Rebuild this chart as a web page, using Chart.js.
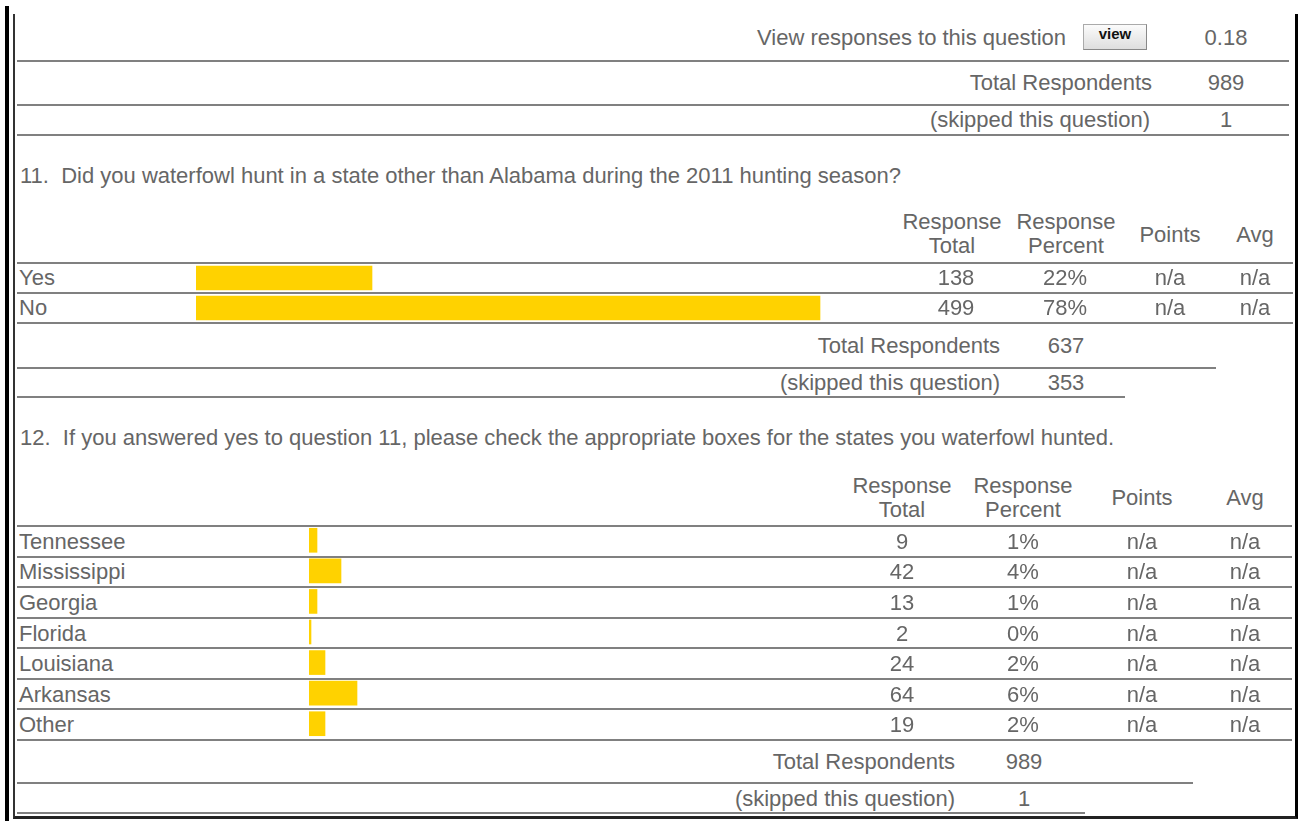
<!DOCTYPE html>
<html>
<head>
<meta charset="utf-8">
<script src="https://cdn.jsdelivr.net/npm/chart.js@4.4.1/dist/chart.umd.min.js"></script>
<style>
    html, body { margin: 0; padding: 0; background: #fff; }
    body { width: 1301px; height: 821px; position: relative; overflow: hidden;
           font-family: "Liberation Sans", Arial, sans-serif; font-size: 22px; color: #666; }
    .t { position: absolute; line-height: 24px; white-space: nowrap; }
    .c { text-align: center; width: 240px; }
    .r { text-align: right; width: 700px; }
    .hr { position: absolute; height: 2px; background: #808080; }
    canvas { position: absolute; }
    #outer { position: absolute; left: 5px; top: 6px; width: 4px; height: 815px; background: #000; }
    #frame { position: absolute; left: 13px; top: 14px; width: 1280px; height: 802px;
             border-left: 2px solid #333; border-right: 3px solid #000; border-bottom: 3px solid #222; }
    .btn { position: absolute; left: 1083px; top: 24px; width: 64px; height: 26px; box-sizing: border-box;
           border: 1px solid #aaa; border-right-color: #888; border-bottom-color: #888;
           background: linear-gradient(#fbfbfb, #dedede);
           font: bold 15px "Liberation Sans", Arial, sans-serif; color: #111; text-align: center; line-height: 18px; }
</style>
</head>
<body>
<div id="outer"></div>
<div id="frame"></div>
<div class="btn">view</div>
<canvas id="q11Chart" width="800" height="60" style="left:196px; top:263px;"></canvas>
<canvas id="q12Chart" width="800" height="214" style="left:309px; top:525px;"></canvas>
<div id="texts"></div>

<script>
// question 11
const q11Labels = ['Yes', 'No'];
const q11Totals = [138, 499];
const q11Percents = [22, 78];

// question 12
const q12Labels = ['Tennessee', 'Mississippi', 'Georgia', 'Florida', 'Louisiana', 'Arkansas', 'Other'];
const q12Totals = [9, 42, 13, 2, 24, 64, 19];
const q12Percents = [1, 4, 1, 0, 2, 6, 2];

const barColor = '#FFD200';

const box = document.getElementById('texts');

// place one text, x is center (c), right edge (r) or left edge
function txt(str, x, y, align) {
    const d = document.createElement('div');
    d.className = 't' + (align ? ' ' + align : '');
    let left = x;
    if (align === 'c') left = x - 120;
    if (align === 'r') left = x - 700;
    d.style.left = left + 'px';
    d.style.top = (y - 12) + 'px';
    d.innerHTML = str;
    box.appendChild(d);
}

function line(y, x1, x2) {
    const d = document.createElement('div');
    d.className = 'hr';
    d.style.left = x1 + 'px';
    d.style.top = y + 'px';
    d.style.width = (x2 - x1) + 'px';
    box.appendChild(d);
}

function barChart(id, labels, percents) {
    new Chart(document.getElementById(id), {
        type: 'bar',
        data: {
            labels: labels,
            datasets: [{
                data: percents,
                backgroundColor: barColor,
                barThickness: 24,
                minBarLength: 2,
                borderWidth: 0
            }]
        },
        options: {
            indexAxis: 'y',
            responsive: false,
            animation: false,
            layout: { padding: 0 },
            plugins: { legend: { display: false }, tooltip: { enabled: false } },
            scales: {
                x: { display: false, min: 0, max: 100 },
                y: { display: false }
            }
        }
    });
}

// top of the page, end of question 10
txt('View responses to this question', 1066, 38, 'r');
txt('0.18', 1226, 38, 'c');
line(60, 17, 1289);
txt('Total Respondents', 1152, 83, 'r');
txt('989', 1226, 83, 'c');
line(104, 17, 1289);
txt('(skipped this question)', 1150, 120, 'r');
txt('1', 1226, 120, 'c');
line(134, 17, 1289);

// question 11
txt('11.&nbsp; Did you waterfowl hunt in a state other than Alabama during the 2011 hunting season?', 20, 176);
txt('Response<br>Total', 952, 222, 'c');
txt('Response<br>Percent', 1066, 222, 'c');
txt('Points', 1170, 235, 'c');
txt('Avg', 1255, 235, 'c');
line(262, 17, 1293);
q11Labels.forEach((lab, i) => {
    const y = 278 + i * 30;
    txt(lab, 19, y);
    txt(q11Totals[i], 956, y, 'c');
    txt(q11Percents[i] + '%', 1065, y, 'c');
    txt('n/a', 1170, y, 'c');
    txt('n/a', 1255, y, 'c');
    line(292 + i * 30, 17, 1293);
});
txt('Total Respondents', 1000, 346, 'r');
txt(q11Totals.reduce((a, b) => a + b, 0), 1066, 346, 'c');
line(367, 17, 1216);
txt('(skipped this question)', 1000, 383, 'r');
txt('353', 1066, 383, 'c');
line(396, 17, 1125);

// question 12
txt('12.&nbsp; If you answered yes to question 11, please check the appropriate boxes for the states you waterfowl hunted.', 20, 438);
txt('Response<br>Total', 902, 486, 'c');
txt('Response<br>Percent', 1023, 486, 'c');
txt('Points', 1142, 498, 'c');
txt('Avg', 1245, 498, 'c');
const rowH = 214 / 7;
line(525, 17, 1292);
q12Labels.forEach((lab, i) => {
    const y = 525 + rowH * (i + 0.5) + 1.5;
    txt(lab, 19, y);
    txt(q12Totals[i], 902, y, 'c');
    txt(q12Percents[i] + '%', 1023, y, 'c');
    txt('n/a', 1142, y, 'c');
    txt('n/a', 1245, y, 'c');
    line(Math.round(525 + rowH * (i + 1)), 17, 1292);
});
txt('Total Respondents', 955, 762, 'r');
txt('989', 1024, 762, 'c');
line(782, 17, 1193);
txt('(skipped this question)', 955, 799, 'r');
txt('1', 1024, 799, 'c');
line(812, 17, 1085);

barChart('q11Chart', q11Labels, q11Percents);
barChart('q12Chart', q12Labels, q12Percents);
</script>
</body>
</html>
